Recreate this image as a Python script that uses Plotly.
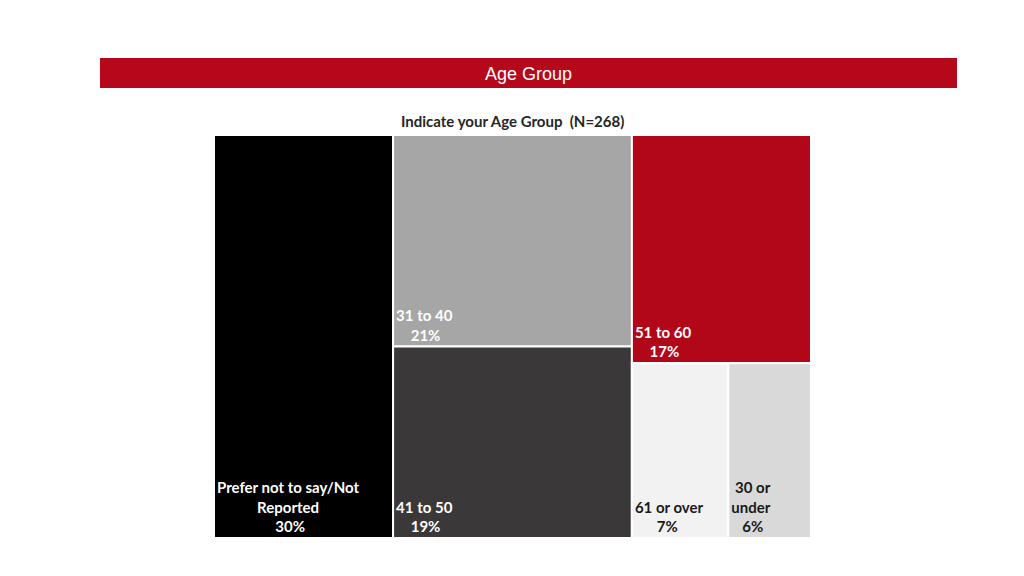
import plotly.graph_objects as go

# Data
ids = ["Prefer", "colB", "colC", "c31_40", "c41_50", "c51_60", "colD", "c61", "c30"]
labels = ["Prefer not to say/Not Reported", "", "", "31 to 40", "41 to 50", "51 to 60", "", "61 or over", "30 or under"]
parents = ["", "", "", "colB", "colB", "colC", "colC", "colD", "colD"]
values = [30, 0, 0, 21, 19, 17, 0, 7, 6]
pct_text = ["30%", "", "", "21%", "19%", "17%", "", "7%", "6%"]
# label lines as shown in the tiles (wrapped), with leading no-break spaces for centring
label_lines = [
    ["Prefer not to say/Not", "&nbsp;" * 11 + "Reported", "&nbsp;" * 16 + "30%"],
    [], [],
    ["31 to 40", "&nbsp;" * 4 + "21%"],
    ["41 to 50", "&nbsp;" * 4 + "19%"],
    ["51 to 60", "&nbsp;" * 4 + "17%"],
    [],
    ["61 or over", "&nbsp;" * 6 + "7%"],
    ["&nbsp;" + "30 or", "under", "&nbsp;" * 3 + "6%"],
]
colors = ["#000000", "#FFFFFF", "#FFFFFF", "#A6A6A6", "#3B3839", "#B20718", "#FFFFFF", "#F2F2F2", "#D9D9D9"]
text_colors = ["#FFFFFF", "#FFFFFF", "#FFFFFF", "#FFFFFF", "#FFFFFF", "#FFFFFF", "#FFFFFF", "#1A1A1A", "#1A1A1A"]

templates = [("<b>" + "<br>".join(ls) + "</b>") if ls else "" for ls in label_lines]

W, H = 1008, 560  # page body has an 8px margin in the 1024x576 window
OFF = 8


def px(x):
    return (x - OFF) / W


def py(y):
    return 1 - (y - OFF) / H


fig = go.Figure(go.Treemap(
    ids=ids,
    labels=labels,
    parents=parents,
    values=values,
    branchvalues="remainder",
    sort=False,
    tiling=dict(packing="slice-dice", pad=0),
    marker=dict(colors=colors, line=dict(color="#FFFFFF", width=2),
                pad=dict(t=0, l=0, r=0, b=0)),
    texttemplate=templates,
    textposition="bottom left",
    textfont=dict(family="Lato", size=15, color=text_colors),
    hoverinfo="skip",
    pathbar=dict(visible=False),
    domain=dict(x=[px(214), px(811)], y=[py(538), py(135)]),
))

fig.add_shape(type="rect", xref="paper", yref="paper",
              x0=px(100), x1=px(957), y0=py(88), y1=py(58),
              fillcolor="#B5081A", line=dict(width=0), layer="below")
fig.add_annotation(text="Age Group", xref="paper", yref="paper",
                   x=px(528), y=py(74), xanchor="center", yanchor="middle", showarrow=False,
                   font=dict(family="Liberation Sans", size=18, color="#FFFFFF"))
fig.add_annotation(text="<b>Indicate your Age Group  (N=268)</b>", xref="paper", yref="paper",
                   x=px(512), y=py(121), xanchor="center", yanchor="middle", showarrow=False,
                   font=dict(family="Lato", size=15, color="#262626"))

fig.update_layout(
    width=W, height=H,
    margin=dict(l=0, r=0, t=0, b=0),
    paper_bgcolor="#FFFFFF",
    plot_bgcolor="#FFFFFF",
    showlegend=False,
)

fig.write_html("out.html")
